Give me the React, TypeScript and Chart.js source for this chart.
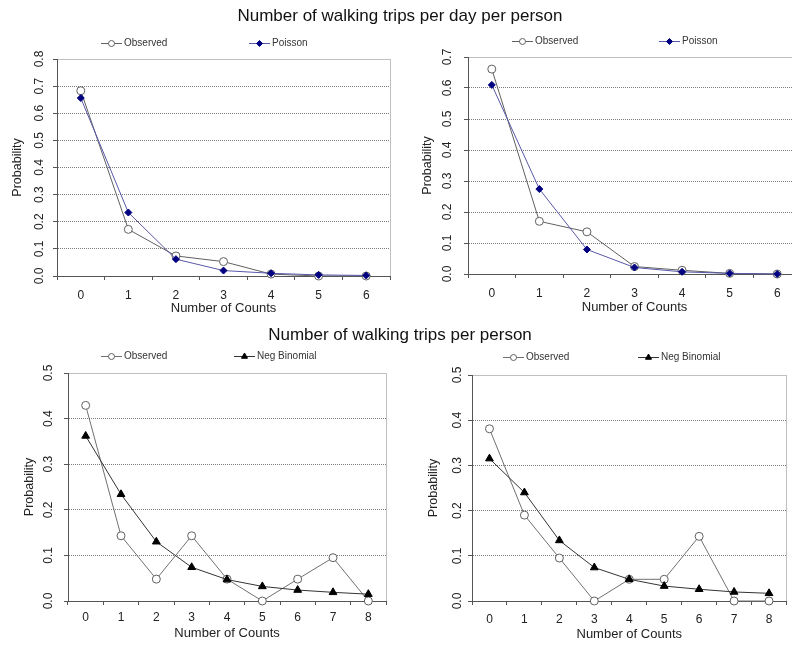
import React, { useEffect, useRef } from "react";
import { Chart, registerables } from "chart.js";

Chart.register(...registerables);

// ---------- data ----------
const countsToSix = ["0", "1", "2", "3", "4", "5", "6"];
const countsToEight = ["0", "1", "2", "3", "4", "5", "6", "7", "8"];

const dailyObservedA = [0.683, 0.172, 0.074, 0.053, 0.007, 0.0, 0.0];
const dailyPoissonA = [0.656, 0.234, 0.062, 0.02, 0.01, 0.004, 0.002];

const dailyObservedB = [0.661, 0.17, 0.136, 0.024, 0.012, 0.002, 0.0];
const dailyPoissonB = [0.61, 0.274, 0.079, 0.021, 0.007, 0.002, 0.0];

const tripsObservedA = [0.429, 0.143, 0.048, 0.143, 0.048, 0.0, 0.048, 0.095, 0.0];
const tripsNegBinA = [0.362, 0.234, 0.13, 0.074, 0.047, 0.032, 0.024, 0.019, 0.015];

const tripsObservedB = [0.381, 0.19, 0.095, 0.0, 0.048, 0.048, 0.143, 0.0, 0.0];
const tripsNegBinB = [0.315, 0.24, 0.134, 0.074, 0.048, 0.033, 0.026, 0.02, 0.017];

const titleDaily = "Number of walking trips per day per person";
const titlePerson = "Number of walking trips per person";
const xAxisTitle = "Number of Counts";
const yAxisTitle = "Probability";
const observedName = "Observed";
const poissonName = "Poisson";
const negBinName = "Neg Binomial";

// ---------- styles ----------
const FONT = '"Liberation Sans", Arial, Helvetica, sans-serif';
const TICK_SIZE = 12;
const XTITLE_SIZE = 13;
const YTITLE_SIZE = 12.5;
const TICK_LEN = 4;

type MarkerStyle = "circle" | "rectRot" | "triangle";

interface SeriesDef {
  label: string;
  values: number[];
  line: string;
  fill: string;
  stroke: string;
  style: MarkerStyle;
  radius: number;
  legendRadius: number;
  order: number;
}

interface PanelDef {
  labels: string[];
  yMax: number;
  series: SeriesDef[];
  box: { left: number; top: number; width: number; height: number };
  area: { l: number; r: number; t: number; b: number };
  yTickX: number;
  yTitleX: number;
  xTickY: number;
  xTitleY: number;
  legendY: number;
  legendX: number[];
}

const observedStyleTop = { line: "#606060", fill: "#ffffff", stroke: "#606060", style: "circle" as MarkerStyle, radius: 4, legendRadius: 3, order: 1 };
const poissonStyle = { line: "#5858a8", fill: "#000080", stroke: "#000080", style: "rectRot" as MarkerStyle, radius: 3.5, legendRadius: 3, order: 0 };
const observedStyleBottom = { line: "#707070", fill: "#ffffff", stroke: "#606060", style: "circle" as MarkerStyle, radius: 4, legendRadius: 3, order: 1 };
const negBinStyle = { line: "#333333", fill: "#000000", stroke: "#000000", style: "triangle" as MarkerStyle, radius: 4.5, legendRadius: 3.5, order: 0 };

const panels: PanelDef[] = [
  {
    labels: countsToSix,
    yMax: 0.8,
    series: [
      { label: observedName, values: dailyObservedA, ...observedStyleTop },
      { label: poissonName, values: dailyPoissonA, ...poissonStyle },
    ],
    box: { left: 0, top: 20, width: 396, height: 300 },
    area: { l: 57, r: 390, t: 59, b: 276 },
    yTickX: 40,
    yTitleX: 18,
    xTickY: 295.5,
    xTitleY: 308,
    legendY: 43,
    legendX: [101, 249],
  },
  {
    labels: countsToSix,
    yMax: 0.7,
    series: [
      { label: observedName, values: dailyObservedB, ...observedStyleTop },
      { label: poissonName, values: dailyPoissonB, ...poissonStyle },
    ],
    box: { left: 396, top: 20, width: 410, height: 300 },
    area: { l: 468, r: 802, t: 57, b: 274 },
    yTickX: 448,
    yTitleX: 428,
    xTickY: 293.5,
    xTitleY: 307.5,
    legendY: 41,
    legendX: [512, 659],
  },
  {
    labels: countsToEight,
    yMax: 0.5,
    series: [
      { label: observedName, values: tripsObservedA, ...observedStyleBottom },
      { label: negBinName, values: tripsNegBinA, ...negBinStyle },
    ],
    box: { left: 0, top: 340, width: 396, height: 306 },
    area: { l: 68, r: 386, t: 373, b: 601 },
    yTickX: 48.7,
    yTitleX: 30,
    xTickY: 617.5,
    xTitleY: 633.5,
    legendY: 356,
    legendX: [101, 234],
  },
  {
    labels: countsToEight,
    yMax: 0.5,
    series: [
      { label: observedName, values: tripsObservedB, ...observedStyleBottom },
      { label: negBinName, values: tripsNegBinB, ...negBinStyle },
    ],
    box: { left: 396, top: 340, width: 396, height: 306 },
    area: { l: 472, r: 789, t: 375, b: 601 },
    yTickX: 457.2,
    yTitleX: 433.2,
    xTickY: 619.5,
    xTitleY: 634,
    legendY: 357,
    legendX: [503, 638],
  },
];

function drawMarker(
  ctx: CanvasRenderingContext2D,
  style: MarkerStyle,
  x: number,
  y: number,
  r: number,
  fill: string,
  stroke: string
) {
  ctx.beginPath();
  if (style === "circle") {
    ctx.arc(x, y, r, 0, Math.PI * 2);
  } else if (style === "rectRot") {
    ctx.moveTo(x, y - r);
    ctx.lineTo(x + r, y);
    ctx.lineTo(x, y + r);
    ctx.lineTo(x - r, y);
  } else {
    let a = 0;
    ctx.moveTo(x + Math.sin(a) * r, y - Math.cos(a) * r);
    a += (2 * Math.PI) / 3;
    ctx.lineTo(x + Math.sin(a) * r, y - Math.cos(a) * r);
    a += (2 * Math.PI) / 3;
    ctx.lineTo(x + Math.sin(a) * r, y - Math.cos(a) * r);
  }
  ctx.closePath();
  ctx.fillStyle = fill;
  ctx.fill();
  ctx.lineWidth = 1;
  ctx.strokeStyle = stroke;
  ctx.stroke();
}

function Panel({ def }: { def: PanelDef }) {
  const ref = useRef<HTMLCanvasElement | null>(null);

  useEffect(() => {
    const canvas = ref.current;
    if (!canvas) return;
    const { box, area } = def;

    const measure = document.createElement("canvas").getContext("2d") as CanvasRenderingContext2D;
    measure.font = `${TICK_SIZE}px ${FONT}`;
    const widest = measure.measureText("0.0").width;

    const yTickPad = area.l - def.yTickX - TICK_LEN - widest / 2;
    const xTickPad = def.xTickY - area.b - TICK_LEN - (TICK_SIZE * 1.2) / 2;
    const yTitlePad = def.yTitleX - box.left - (YTITLE_SIZE * 1.2) / 2;
    const xTitlePad = box.top + box.height - def.xTitleY - (XTITLE_SIZE * 1.2) / 2;
    const yAxisWidth = area.l - box.left;
    const xAxisHeight = box.top + box.height - area.b;
    const yMax = def.yMax;

    const legendPlugin = {
      id: "panelLegend",
      afterDraw(chart: any) {
        const ctx: CanvasRenderingContext2D = chart.ctx;
        const y = def.legendY - box.top;
        def.series.forEach((s, i) => {
          const x = def.legendX[i] - box.left;
          ctx.save();
          ctx.strokeStyle = s.line;
          ctx.lineWidth = 1;
          ctx.beginPath();
          ctx.moveTo(x, Math.round(y) + 0.5);
          ctx.lineTo(x + 21, Math.round(y) + 0.5);
          ctx.stroke();
          drawMarker(ctx, s.style, x + 10.5, Math.round(y) + 0.5, s.legendRadius, s.fill, s.stroke);
          ctx.fillStyle = "#333333";
          ctx.font = `10px ${FONT}`;
          ctx.textAlign = "left";
          ctx.textBaseline = "middle";
          ctx.fillText(s.label, x + 23, y + 0.5);
          ctx.restore();
        });
      },
    };

    const chart = new Chart(canvas, {
      type: "line",
      data: {
        labels: def.labels,
        datasets: def.series.map((s) => ({
          label: s.label,
          data: s.values,
          borderColor: s.line,
          borderWidth: 1,
          backgroundColor: s.fill,
          pointStyle: s.style,
          pointRadius: s.radius,
          pointBackgroundColor: s.fill,
          pointBorderColor: s.stroke,
          pointBorderWidth: 1,
          tension: 0,
          fill: false,
          clip: false as any,
          order: s.order,
        })),
      },
      options: {
        responsive: false,
        animation: false,
        events: [],
        layout: {
          padding: {
            left: 0,
            top: area.t - box.top,
            right: box.left + box.width - area.r,
            bottom: 0,
          },
        },
        plugins: {
          legend: { display: false },
          tooltip: { enabled: false },
          title: { display: false },
        },
        scales: {
          x: {
            type: "category",
            offset: true,
            grid: {
              offset: true,
              drawOnChartArea: true,
              drawTicks: true,
              tickLength: TICK_LEN,
              tickColor: "#555555",
              color: (c: any) => (c.tick === undefined ? "#c0c0c0" : "rgba(0,0,0,0)"),
              lineWidth: 1,
            },
            border: { display: true, color: "#555555", width: 1 },
            ticks: {
              autoSkip: false,
              maxRotation: 0,
              minRotation: 0,
              padding: xTickPad,
              color: "#222222",
              font: { family: FONT, size: TICK_SIZE },
            },
            title: {
              display: true,
              text: xAxisTitle,
              color: "#222222",
              font: { family: FONT, size: XTITLE_SIZE },
              padding: { top: 0, bottom: xTitlePad },
            },
            afterFit: (s: any) => {
              s.height = xAxisHeight;
            },
          },
          y: {
            type: "linear",
            min: 0,
            max: yMax,
            grid: {
              drawOnChartArea: true,
              drawTicks: true,
              tickLength: TICK_LEN,
              tickColor: "#555555",
              tickBorderDash: [],
              lineWidth: 1,
              color: (c: any) => {
                const v = c.tick ? c.tick.value : 0;
                if (v >= yMax - 1e-6) return "#c0c0c0";
                if (v <= 1e-6) return "rgba(0,0,0,0)";
                return "#7a7a7a";
              },
            },
            border: {
              display: true,
              color: "#555555",
              width: 1,
              dash: (c: any) => {
                const v = c.tick ? c.tick.value : 0;
                return v > 1e-6 && v < yMax - 1e-6 ? [1, 1] : [];
              },
            },
            ticks: {
              stepSize: 0.1,
              autoSkip: false,
              minRotation: 90,
              maxRotation: 90,
              crossAlign: "center",
              padding: yTickPad,
              color: "#222222",
              font: { family: FONT, size: TICK_SIZE },
              callback: (v: any) => Number(v).toFixed(1),
            },
            title: {
              display: true,
              text: yAxisTitle,
              color: "#222222",
              font: { family: FONT, size: YTITLE_SIZE },
              padding: { top: yTitlePad, bottom: 0 },
            },
            afterFit: (s: any) => {
              s.width = yAxisWidth;
            },
          },
        },
      } as any,
      plugins: [legendPlugin],
    });

    return () => {
      chart.destroy();
    };
  }, [def]);

  return (
    <canvas
      ref={ref}
      width={def.box.width}
      height={def.box.height}
      style={{
        position: "absolute",
        left: def.box.left,
        top: def.box.top,
        width: def.box.width,
        height: def.box.height,
        display: "block",
      }}
    />
  );
}

const titleStyle: React.CSSProperties = {
  position: "absolute",
  left: 0,
  width: 800,
  textAlign: "center",
  fontFamily: FONT,
  fontSize: 17,
  lineHeight: "20px",
  color: "#111111",
  whiteSpace: "nowrap",
};

export default function App() {
  return (
    <div
      style={{
        position: "absolute",
        left: 0,
        top: 0,
        width: 792,
        height: 646,
        overflow: "hidden",
        background: "#ffffff",
      }}
    >
      {panels.map((p, i) => (
        <Panel key={i} def={p} />
      ))}
      <div style={{ ...titleStyle, top: 6 }}>{titleDaily}</div>
      <div style={{ ...titleStyle, top: 325 }}>{titlePerson}</div>
    </div>
  );
}
